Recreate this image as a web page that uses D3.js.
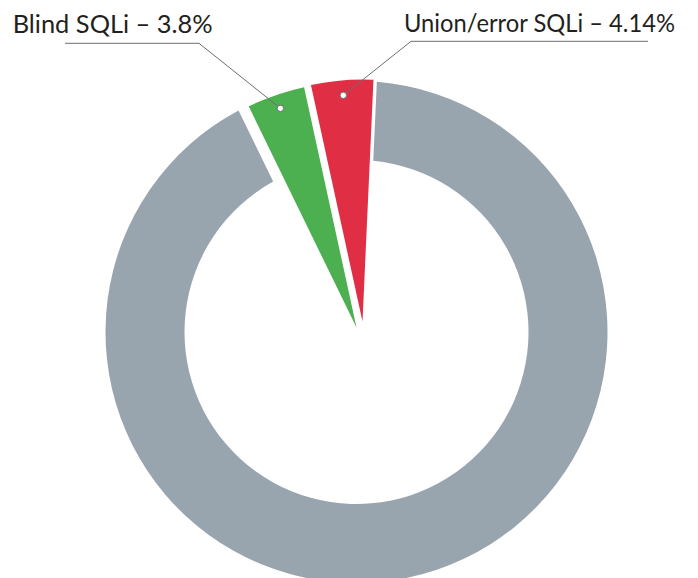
<!DOCTYPE html>
<html>
<head>
<meta charset="utf-8">
<script src="https://cdn.jsdelivr.net/npm/d3@7"></script>
<style>
  html, body { margin: 0; padding: 0; background: #fff; }
  svg { display: block; }
  text { font-family: Lato, "Open Sans", sans-serif; fill: #231f20; }
</style>
</head>
<body>
<svg id="chart" width="698" height="578"></svg>
<script>
// ---- data ----
const categories = ["Other", "Blind SQLi", "Union/error SQLi"];
const values = [92.06, 3.8, 4.14];
const labelTexts = ["", "Blind SQLi – 3.8%", "Union/error SQLi – 4.14%"];
const colors = ["#99a5ae", "#4caf50", "#e02f44"];

// ---- layout ----
const W = 698, H = 578;
const cx = 356.5, cy = 332;
const rOuter = 251, rInner = 172;
const deg = Math.PI / 180;
const start = 2.6 * deg;

// per-slice geometry (explode offsets, radii)
const sliceGeom = [
  { dx: 0, dy: 0, inner: rInner, outer: rOuter, pad: 0.059 },
  { dx: 0, dy: -4.5, inner: 0, outer: 246, pad: 0 },
  { dx: 6, dy: -10.5, inner: 0, outer: 242, pad: 0 }
];
// label placement
const labelGeom = [
  null,
  { elbowX: 199, elbowY: 43.3, endX: 65, textX: 12.7, textY: 33.3, width: 200, dotR: 232 },
  { elbowX: 411, elbowY: 41.3, endX: 648, textX: 404, textY: 32.3, width: 271, dotR: 227 }
];

const svg = d3.select("#chart");
const g = svg.append("g").attr("transform", `translate(${cx},${cy})`);

const pie = d3.pie().sort(null).value(d => d)
  .startAngle(start).endAngle(start + 2 * Math.PI);
const arcs = pie(values);

arcs.forEach((a, i) => {
  const sg = sliceGeom[i];
  const arc = d3.arc().innerRadius(sg.inner).outerRadius(sg.outer).padAngle(sg.pad);
  g.append("path")
    .attr("d", arc(a))
    .attr("transform", `translate(${sg.dx},${sg.dy})`)
    .attr("fill", colors[i]);
});

// leader lines and labels
arcs.forEach((a, i) => {
  const lg = labelGeom[i];
  if (!lg) return;
  const sg = sliceGeom[i];
  const mid = (a.startAngle + a.endAngle) / 2;
  const px = sg.dx + lg.dotR * Math.sin(mid);
  const py = sg.dy - lg.dotR * Math.cos(mid);
  const ex = lg.elbowX - cx, ey = lg.elbowY - cy;
  g.append("path")
    .attr("d", d3.line()([[px, py], [ex, ey], [lg.endX - cx, ey]]))
    .attr("fill", "none")
    .attr("stroke", "#6d6e71")
    .attr("stroke-width", 1);
  g.append("circle")
    .attr("cx", px).attr("cy", py).attr("r", 3.2)
    .attr("fill", "#fff")
    .attr("stroke", "#6d6e71")
    .attr("stroke-width", 1);
  svg.append("text")
    .attr("x", lg.textX).attr("y", lg.textY)
    .attr("font-size", 25)
    .attr("textLength", lg.width)
    .attr("lengthAdjust", "spacingAndGlyphs")
    .text(labelTexts[i]);
});
</script>
</body>
</html>
